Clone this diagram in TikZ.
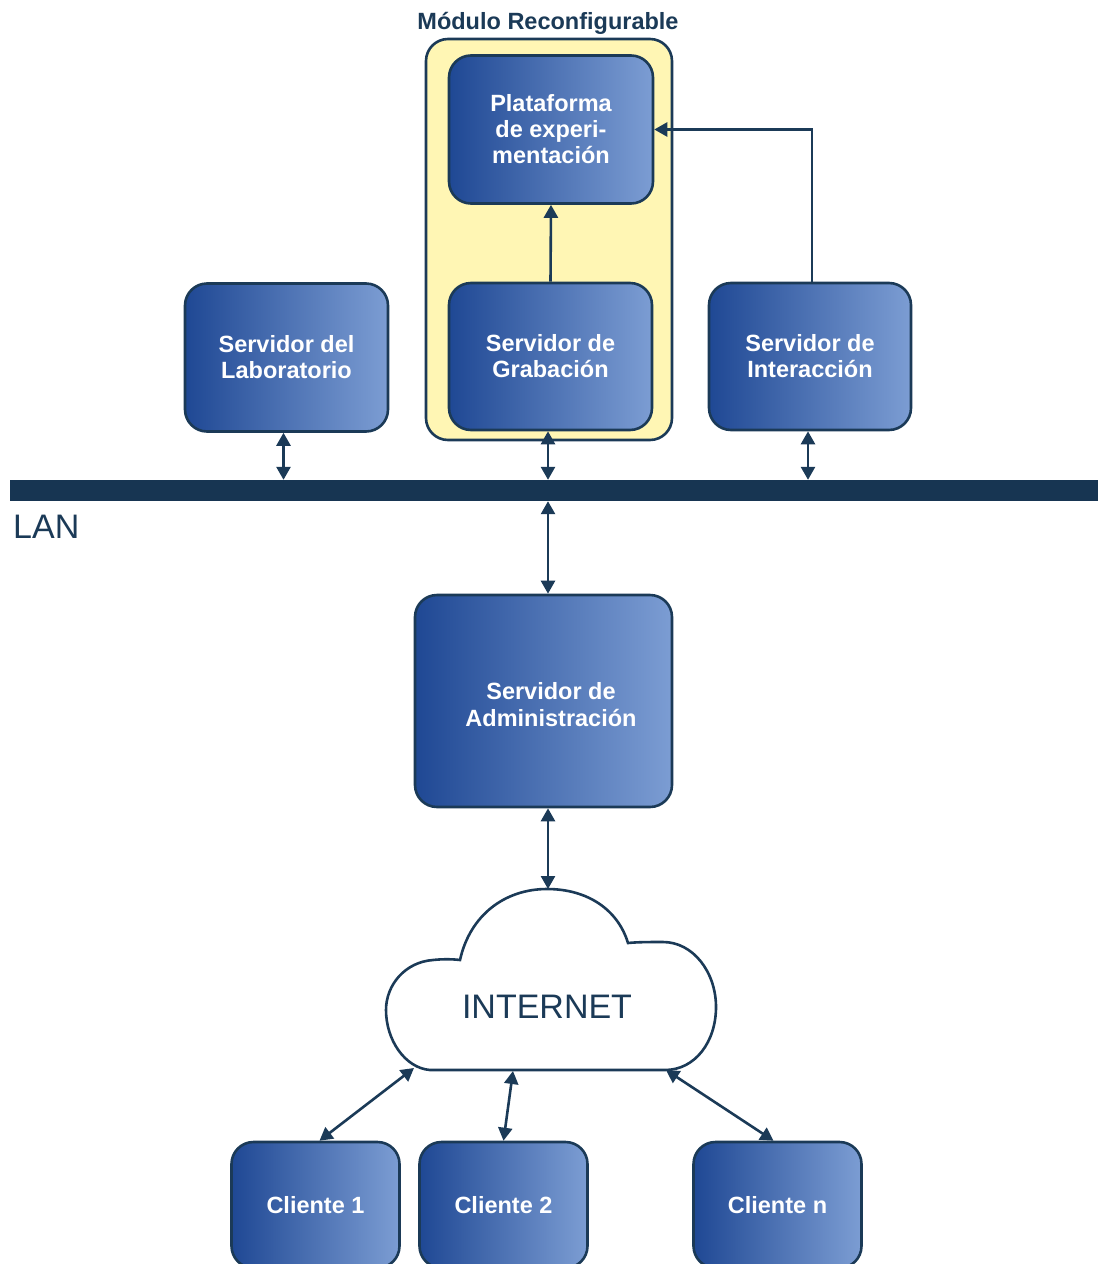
\documentclass[tikz,border=0pt]{standalone}
\usepackage{fontspec}
\setmainfont{Liberation Sans}
\usetikzlibrary{arrows.meta,calc}
\definecolor{navy}{HTML}{1B3A57}
\definecolor{lanbar}{HTML}{173552}
\definecolor{boxL}{HTML}{1F4894}
\definecolor{boxR}{HTML}{7C9DD3}
\definecolor{modfill}{HTML}{FFF6B4}
\begin{document}
\begin{tikzpicture}[x=1pt,y=-1pt,
  >={Triangle[length=13pt,width=14pt]},
  srv/.style={draw=navy, line width=2.6pt, rounded corners=22pt,
    left color=boxL, right color=boxR, text=white, align=center, inner sep=0pt,
    font=\bfseries\fontsize{23.5}{26}\selectfont},
  srvtext/.style={text=white, align=center, inner sep=0pt,
    font=\bfseries\fontsize{23.5}{27}\selectfont},
  link/.style={draw=navy, line width=2.6pt, <->},
  flow/.style={draw=navy, line width=2.6pt, ->},
  modbox/.style={draw=navy, line width=2.6pt, rounded corners=22pt, fill=modfill, inner sep=0pt},
  plain/.style={text=navy, inner sep=0pt}]
\useasboundingbox (0,0) rectangle (1098,1264);
\clip (0,0) rectangle (1098,1264);

% reconfigurable module frame and its title
\node[modbox, minimum width=246pt, minimum height=401pt] (mod) at (549,239.5) {};
\node[plain, font=\bfseries\fontsize{23.5}{26}\selectfont] (modtitle) at (548,23.5) {Módulo Reconfigurable};

% servers
\node[srv, minimum width=204pt, minimum height=148pt] (plat) at (551,129.5)
  {Plataforma\\de experi-\\mentación};
\node[srv, minimum width=203pt, minimum height=147pt] (grab) at (550.5,356.5)
  {Servidor de\\Grabación};
\node[srv, minimum width=203pt, minimum height=148pt] (lab) at (286.5,357.5)
  {Servidor del\\Laboratorio};
\node[srv, minimum width=202pt, minimum height=147pt] (inter) at (810,356.5)
  {Servidor de\\Interacción};

% LAN backbone
\node[fill=lanbar, inner sep=0pt, minimum width=1088pt, minimum height=21pt] (lan) at (554,490.5) {};
\node[plain, anchor=west, font=\fontsize{34}{40}\selectfont] (lanlabel) at (13,527) {LAN};

% administration server
\node[srv, minimum width=257pt, minimum height=212pt] (admin) at (543.5,701) {};
\node[srvtext] (admintext) at (551,705) {Servidor de\\Administración};

% internet cloud
\draw[navy, line width=2.6pt, fill=white]
  (430,1070) -- (665,1070)
  .. controls (695,1070) and (716,1042) .. (716,1007)
  .. controls (716,972) and (693,942) .. (663,942)
  .. controls (650,942) and (638,942) .. (628,943)
  .. controls (618,910) and (588,889) .. (547,889)
  .. controls (505,889) and (470,915) .. (460,960)
  .. controls (452,959) and (442,959) .. (433,960)
  .. controls (405,962) and (386,985) .. (386,1010)
  .. controls (386,1040) and (405,1068) .. (430,1070) -- cycle;
\coordinate (cloudtop) at (548,889);
\coordinate (cloudA) at (414,1068);
\coordinate (cloudB) at (513,1071);
\coordinate (cloudC) at (666,1070);
\node[plain, font=\fontsize{34}{40}\selectfont] (inet) at (547,1007) {INTERNET};

% clients
\node[srv, minimum width=168pt, minimum height=126pt] (c1) at (315.5,1205) {Cliente 1};
\node[srv, minimum width=168pt, minimum height=126pt] (c2) at (503.5,1205) {Cliente 2};
\node[srv, minimum width=168pt, minimum height=126pt] (cn) at (777.5,1205) {Cliente n};

% connections inside the module
\draw[flow] (grab.north) -- (plat.south);
\draw[flow] ([xshift=2pt]inter.north) |- (plat.east);

% connections to the LAN
\draw[link] ([xshift=-3pt]lab.south) -- ([xshift=-3pt]lab.south |- lan.north);
\draw[link] ([xshift=-2.5pt]grab.south) -- ([xshift=-2.5pt]grab.south |- lan.north);
\draw[link] ([xshift=-2pt]inter.south) -- ([xshift=-2pt]inter.south |- lan.north);
\draw[link] ([xshift=4.5pt]admin.north |- lan.south) -- ([xshift=4.5pt]admin.north);

% administration server to the internet
\draw[link] ([xshift=4.5pt]admin.south) -- (cloudtop);

% clients to the internet
\draw[link] (cloudA) -- ([xshift=4pt]c1.north);
\draw[link] (cloudB) -- (c2.north);
\draw[link] (cloudC) -- ([xshift=-4pt]cn.north);
\end{tikzpicture}
\end{document}
